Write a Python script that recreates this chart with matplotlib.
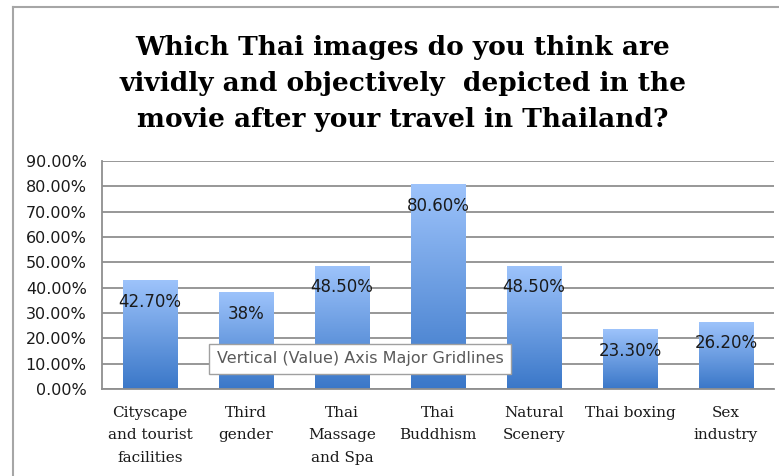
import numpy as np
import matplotlib
matplotlib.use("Agg")
import matplotlib.pyplot as plt
from matplotlib.lines import Line2D
from matplotlib.colors import LinearSegmentedColormap

# categories and answers (share of respondents, in %)
categories = ["Cityscape\nand tourist\nfacilities", "Third\ngender", "Thai\nMassage\nand Spa",
              "Thai\nBuddhism", "Natural\nScenery", "Thai boxing", "Sex\nindustry"]
values = [42.7, 38.0, 48.5, 80.6, 48.5, 23.3, 26.2]
value_labels = ["42.70%", "38%", "48.50%", "80.60%", "48.50%", "23.30%", "26.20%"]
y_ticks = [0, 10, 20, 30, 40, 50, 60, 70, 80, 90]

title = ("Which Thai images do you think are\n"
         "vividly and objectively  depicted in the\n"
         "movie after your travel in Thailand?")

fig = plt.figure(figsize=(7.79, 4.76), dpi=100)
fig.patch.set_facecolor("white")

# chart area border (left and top edges)
fig.add_artist(Line2D([13 / 779, 13 / 779], [0, 1 - 7 / 476], transform=fig.transFigure,
                      color="#a6a6a6", lw=1.5))
fig.add_artist(Line2D([13 / 779, 1], [1 - 7 / 476, 1 - 7 / 476], transform=fig.transFigure,
                      color="#a6a6a6", lw=1.5))

fig.text(0.517, 1 - 83 / 476, title, ha="center", va="center", fontsize=19,
         fontweight="heavy", family="DejaVu Serif", linespacing=1.55, color="black")

ax = fig.add_axes([102 / 779, 1 - 389 / 476, 672 / 779, 228 / 476])
x = np.arange(len(categories))

ax.set_yticks(y_ticks)
ax.set_yticklabels([f"{t:.2f}%" for t in y_ticks], fontsize=11.5, family="DejaVu Sans",
                   color="#1a1a1a")
ax.yaxis.grid(True, color="#8f8f8f", lw=1.3)
ax.set_axisbelow(True)
ax.tick_params(axis="y", length=0, pad=11)
ax.tick_params(axis="x", length=0, pad=12)
ax.set_xticks(x)
ax.set_xticklabels(categories, fontsize=11, family="DejaVu Serif", linespacing=1.8,
                   color="#1a1a1a", va="top")
for sp in ["top", "right"]:
    ax.spines[sp].set_visible(False)
for sp in ["left", "bottom"]:
    ax.spines[sp].set_color("#8f8f8f")
    ax.spines[sp].set_linewidth(1.3)

# bars with a vertical light-to-dark blue gradient
grad = LinearSegmentedColormap.from_list("barblue", ["#3a77c8", "#9dc3fb"])
ramp = np.linspace(0, 1, 256).reshape(-1, 1)
width = 0.57
bars = ax.bar(x, values, width=width, color="none", zorder=2)
for b in bars:
    x0, w, h = b.get_x(), b.get_width(), b.get_height()
    ax.imshow(ramp, cmap=grad, origin="lower", aspect="auto",
              extent=(x0, x0 + w, 0, h), zorder=2)
ax.set_xlim(-0.5, len(categories) - 0.5)
ax.set_ylim(0, 90)

for xi, v, lab in zip(x, values, value_labels):
    ax.annotate(lab, (xi, v), xytext=(0, -15), textcoords="offset points",
                ha="center", va="center", fontsize=12, color="#1a1a1a", zorder=4)

# hover tip over the gridlines
fig.text(360 / 779, 1 - 359 / 476, "Vertical (Value) Axis Major Gridlines",
         ha="center", va="center", fontsize=11.5, color="#5a5a5a", family="DejaVu Sans",
         bbox=dict(boxstyle="square,pad=0.45", fc="white", ec="#a0a0a0", lw=1), zorder=10)

fig.savefig("out.png", dpi=100)
